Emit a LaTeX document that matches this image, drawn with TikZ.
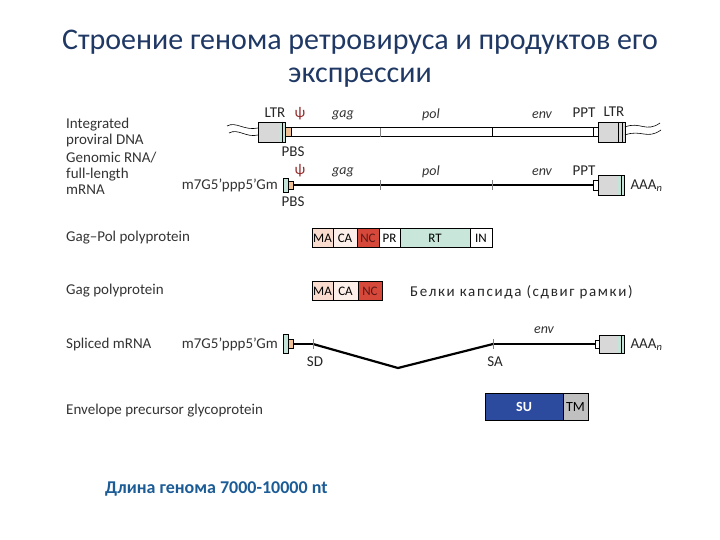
\documentclass[tikz,border=0pt]{standalone}
\usepackage{fontspec}
\setmainfont{Carlito}
\usetikzlibrary{positioning}
\definecolor{ttl}{RGB}{31,56,100}
\definecolor{bot}{RGB}{28,92,150}
\definecolor{ltrg}{RGB}{216,216,216}
\definecolor{ltrt}{RGB}{196,228,218}
\definecolor{pbs}{RGB}{240,192,150}
\definecolor{psi}{RGB}{150,40,40}
\definecolor{ma}{RGB}{249,220,206}
\definecolor{ca}{RGB}{252,238,232}
\definecolor{nc}{RGB}{214,72,58}
\definecolor{rt}{RGB}{200,230,218}
\definecolor{su}{RGB}{44,74,158}
\definecolor{tm}{RGB}{192,192,192}

\begin{document}
\begin{tikzpicture}[x=1pt,y=-1pt,font=\fontsize{15}{16}\selectfont,
  lbl/.style={anchor=west,align=left,text=black!80,inner sep=0pt},
  gene/.style={font=\fontsize{14}{14}\selectfont\itshape,text=black!80},
  tag/.style={font=\fontsize{15}{15}\selectfont,text=black!85},
  ltr/.style={draw,line width=0.8pt,fill=ltrg,inner sep=0pt,outer sep=0pt,minimum width=26,minimum height=20,anchor=west},
  sm/.style={draw,line width=0.8pt,inner sep=0pt,outer sep=0pt,minimum width=5,minimum height=9,anchor=west},
  strip/.style={path picture={\fill[ltrt] ([xshift=-6pt]path picture bounding box.north east) rectangle (path picture bounding box.south east);
    \draw[line width=0.6pt] ([xshift=-3pt]path picture bounding box.north east) -- ([xshift=-3pt]path picture bounding box.south east);}},
  dom/.style={draw,line width=0.8pt,inner sep=0pt,outer sep=0pt,minimum height=19,font=\fontsize{13}{13}\selectfont},
  ]
\useasboundingbox (0,0) rectangle (720,540);

% title
\node[font=\fontsize{30}{33}\selectfont,text=ttl,align=center] (title) at (360,59)
  {Строение генома ретровируса и продуктов его\\экспрессии};

% left labels
\node[lbl] (l1) at (66,133) {Integrated\\proviral DNA};
\node[lbl] (l2) at (66,173) {Genomic RNA/\\full-length\\mRNA};
\node[lbl] (l3) at (66,238) {Gag--Pol polyprotein};
\node[lbl] (l4) at (66,291) {Gag polyprotein};
\node[lbl] (l5) at (66,344) {Spliced mRNA};
\node[lbl] (l6) at (66,411) {Envelope precursor glycoprotein};

% integrated provirus
\node[ltr,strip,minimum width=27] (ltrA) at (258,132) {};
\node[sm,fill=pbs,minimum width=6] (pbsA) at (ltrA.east) {};
\node[draw,line width=0.9pt,inner sep=0pt,outer sep=0pt,minimum width=302,minimum height=9,anchor=west] (bodyA) at (pbsA.east) {};
\node[sm,fill=white] (pptA) at (bodyA.east) {};
\node[ltr,minimum width=27,path picture={\draw[line width=0.7pt] ([xshift=-7pt]path picture bounding box.north east) -- ([xshift=-7pt]path picture bounding box.south east)
  ([xshift=-3pt]path picture bounding box.north east) -- ([xshift=-3pt]path picture bounding box.south east);}] (ltrB) at (pptA.east) {};
\draw[gray,line width=0.8pt] (380,128) -- (380,137);
\draw[line width=0.8pt] (492,128) -- (492,137);
\draw[line width=0.6pt] (227,126) .. controls (236,121) and (244,131) .. (ltrA.west|-0,128);
\draw[line width=0.6pt] (229,133) .. controls (238,128) and (246,138) .. (ltrA.west|-0,135);
\draw[line width=0.6pt] (ltrB.east|-0,127) .. controls (640,121) and (646,133) .. (660,123);
\draw[line width=0.6pt] (ltrB.east|-0,135) .. controls (641,129) and (647,140) .. (661,130);
\node[tag] (ltrAt) at (275,113) {LTR};
\node[tag,text=psi] (psiA) at (300,114) {ψ};
\node[gene] (gagA) at (343,115) {gag};
\node[gene] (polA) at (431,115) {pol};
\node[gene] (envA) at (542,115) {env};
\node[tag] (pptAt) at (584,113) {PPT};
\node[tag] (ltrBt) at (614,112) {LTR};
\node[tag] (pbsAt) at (293,152) {PBS};

% genomic RNA
\node[lbl,anchor=east] (capt2) at (278,185) {m7G5’ppp5’Gm};
\node[sm,fill=ltrt,minimum height=14] (cap2a) at (283,185) {};
\node[sm,fill=pbs,minimum height=8] (cap2b) at (cap2a.east) {};
\node[sm,fill=white,minimum height=10] (ppt2) at (593,185) {};
\node[ltr,strip,minimum width=26] (ltr2) at (ppt2.east) {};
\draw[line width=2.4pt] (cap2b.east) -- (ppt2.west);
\draw[gray,line width=0.8pt] (380,180) -- (380,190) (492,180) -- (492,190);
\node[tag,text=psi] (psi2) at (300,171) {ψ};
\node[gene] (gag2) at (343,172) {gag};
\node[gene] (pol2) at (431,172) {pol};
\node[gene] (env2) at (542,172) {env};
\node[tag] (ppt2t) at (584,171) {PPT};
\node[tag] (pbs2t) at (293,202) {PBS};
\node[tag,anchor=west] (aaa2) at (627,186) {AAA\textsubscript{\itshape n}};

% Gag-Pol
\node[dom,fill=ma,minimum width=21,anchor=west] (gpma) at (312,238) {MA};
\node[dom,fill=ca,minimum width=24,right=0pt of gpma] (gpca) {CA};
\node[dom,fill=nc,minimum width=22,right=0pt of gpca,text=psi!60!black] (gpnc) {NC};
\node[dom,fill=white,minimum width=21,right=0pt of gpnc] (gppr) {PR};
\node[dom,fill=rt,minimum width=70,right=0pt of gppr] (gprt) {RT};
\node[dom,fill=white,minimum width=22,right=0pt of gprt] (gpin) {IN};

% Gag
\node[dom,fill=ma,minimum width=21,anchor=west] (gma) at (312,291) {MA};
\node[dom,fill=ca,minimum width=25,right=0pt of gma] (gca) {CA};
\node[dom,fill=nc,minimum width=24,right=0pt of gca,text=psi!60!black] (gnc) {NC};
\node[anchor=west,inner sep=0pt,text=black!85,font=\fontsize{15}{15}\selectfont\addfontfeatures{LetterSpace=11}] (caps) at (410,292) {Белки капсида (сдвиг рамки)};

% spliced mRNA
\node[lbl,anchor=east] (capt5) at (278,344) {m7G5’ppp5’Gm};
\node[sm,fill=ltrt,minimum height=19] (cap5a) at (283,344) {};
\node[sm,fill=pbs,minimum height=9] (cap5b) at (cap5a.east) {};
\coordinate (sd) at (313,344);
\coordinate (vb) at (398,368);
\coordinate (sa) at (493,344);
\node[sm,fill=white,minimum height=8,minimum width=4] (ppt5) at (595,344) {};
\node[ltr,strip,minimum width=25,minimum height=18] (ltr5) at (ppt5.east) {};
\draw[line width=1.2pt] (cap5b.east) -- (sd);
\draw[line width=2.2pt,line join=round] (sd) -- (vb) -- (sa);
\draw[line width=1.2pt] (sa) -- (ppt5.west);
\draw[gray,line width=0.7pt] (313,339) -- (313,349) (493,339) -- (493,349);
\node[gene] (env5) at (544,330) {env};
\node[tag] (sdt) at (315,362) {SD};
\node[tag] (sat) at (495,362) {SA};
\node[tag,anchor=west] (aaa5) at (627,345) {AAA\textsubscript{\itshape n}};

% envelope
\node[dom,fill=su,text=white,minimum width=78,minimum height=27,anchor=west,font=\fontsize{14}{14}\selectfont\bfseries] (su) at (485,407) {SU};
\node[dom,fill=tm,minimum width=25,minimum height=27,right=0pt of su,font=\fontsize{14}{14}\selectfont] (tm) {TM};

% genome length
\node[anchor=west,inner sep=0pt,text=bot,font=\fontsize{18}{18}\selectfont\bfseries] (len) at (105,489) {Длина генома 7000-10000 nt};
\end{tikzpicture}
\end{document}
